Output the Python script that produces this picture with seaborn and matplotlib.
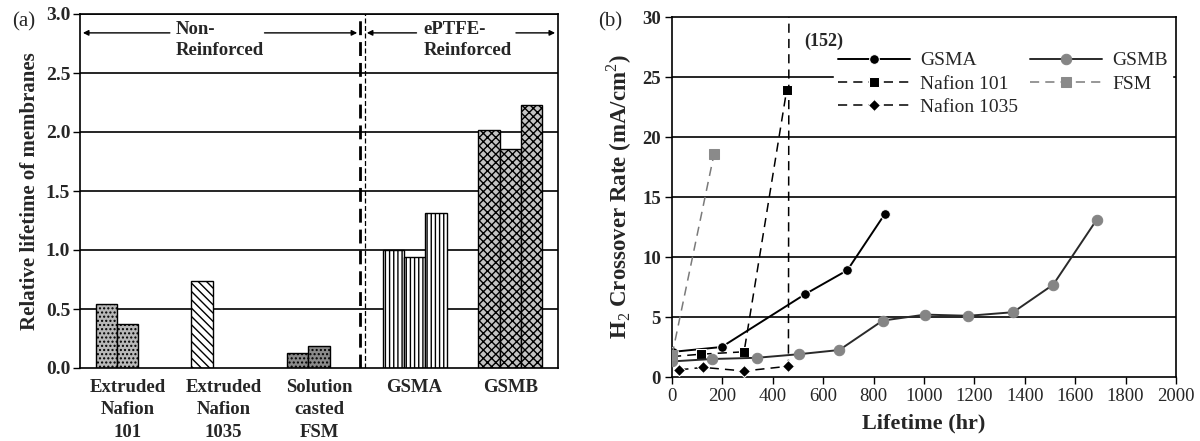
import numpy as np
import pandas as pd
import matplotlib
matplotlib.use("Agg")
import matplotlib.pyplot as plt
import seaborn as sns

# ---------------- data: panel (a) ----------------
groups = ["Extruded\nNafion\n101", "Extruded\nNafion\n1035", "Solution\ncasted\nFSM", "GSMA", "GSMB"]
runs = ["1", "2", "3"]
run1 = [0.54, 0.74, 0.13, 1.00, 2.02]
run2 = [0.37, np.nan, 0.19, 0.94, 1.86]
run3 = [np.nan, np.nan, np.nan, 1.31, 2.23]
ytick_a = [0.0, 0.5, 1.0, 1.5, 2.0, 2.5, 3.0]

# ---------------- data: panel (b) ----------------
gsma_hr = [5, 197, 528, 696, 845]
gsma_val = [2.1, 2.5, 6.9, 8.9, 13.6]
gsmb_hr = [0, 160, 336, 504, 664, 836, 1005, 1176, 1354, 1513, 1685]
gsmb_val = [1.3, 1.5, 1.6, 1.9, 2.25, 4.7, 5.2, 5.1, 5.4, 7.7, 13.1]
n101_hr = [0, 114, 286, 455]
n101_val = [1.7, 1.9, 2.1, 23.9]
fsm_hr = [0, 167]
fsm_val = [1.8, 18.6]
n1035_hr = [29, 124, 287, 462, 472]
n1035_val = [0.6, 0.8, 0.5, 0.9, 152.0]
n1035_label = "(152)"

sns.set_theme(style="white")
plt.rcParams["font.family"] = ["Liberation Serif", "DejaVu Serif"]
plt.rcParams["mathtext.fontset"] = "custom"
plt.rcParams["mathtext.rm"] = "Liberation Serif"
plt.rcParams["mathtext.bf"] = "Liberation Serif:bold"

fig = plt.figure(figsize=(12, 4.41), dpi=100)
axA = fig.add_axes([80/1200, 1-368/441, (558-80)/1200, (368-14)/441])
axB = fig.add_axes([672/1200, 1-377/441, (1176-672)/1200, (377-17)/441])

# ---------------- panel (a) ----------------
rows = []
for r, vals in zip(runs, [run1, run2, run3]):
    for g, v in zip(groups, vals):
        if not np.isnan(v):
            rows.append({"group": g, "run": r, "value": v})
dfa = pd.DataFrame(rows)

for y in ytick_a[1:]:
    axA.axhline(y, color="black", lw=1.2, zorder=0)

sns.barplot(data=dfa, x="group", y="value", hue="run", order=groups, hue_order=runs,
            width=0.67, ax=axA, legend=False, edgecolor="black", linewidth=1.0,
            palette=["white"] * 3, saturation=1, zorder=2)

styles = [("#b8b8b8", "...."), ("white", "\\\\\\\\"), ("#8a8a8a", "...."),
          ("white", "||||"), ("#c4c4c4", "xxxx")]
plt.rcParams["hatch.linewidth"] = 0.7
for p in axA.patches:
    h = p.get_height()
    if h is None or np.isnan(h):
        continue
    gi = int(round(p.get_x() + p.get_width() / 2))
    fc, hatch = styles[gi]
    p.set_facecolor(fc)
    p.set_hatch(hatch)
    p.set_edgecolor("black")

axA.set_xlim(-0.5, 4.5)
axA.set_ylim(0, 3.0)
axA.set_yticks(ytick_a)
axA.set_yticklabels([f"{v:.1f}" for v in ytick_a], fontweight="bold", fontsize=14)
axA.set_xticks(range(len(groups)))
axA.set_xticklabels(groups, fontweight="bold", fontsize=13.5, linespacing=1.4)
axA.set_xticks([0.5, 1.5, 3.5], minor=True)
axA.tick_params(axis="x", which="major", length=0, pad=8)
axA.tick_params(axis="x", which="minor", length=4, width=1, direction="out", color="black")
axA.tick_params(axis="y", length=5, width=1, direction="out", color="black", pad=2, left=True)
axA.set_xlabel("")
axA.set_ylabel("Relative lifetime of membranes", fontweight="bold", fontsize=15, labelpad=4)
for s in axA.spines.values():
    s.set_color("black")
    s.set_linewidth(1.2)

# separator
axA.axvline(2.43, color="black", lw=2.0, ls=(0, (5, 2.5)), zorder=3)
axA.axvline(2.48, color="black", lw=0.9, ls=(0, (4, 2)), zorder=3)

# region annotations
ya = 2.84
arr = dict(arrowstyle="-|>", color="black", lw=1.0, mutation_scale=8, shrinkA=0, shrinkB=0)
axA.annotate("", xy=(-0.47, ya), xytext=(0.44, ya), arrowprops=arr)
axA.annotate("", xy=(2.40, ya), xytext=(1.43, ya), arrowprops=arr)
axA.text(0.50, 2.94, "Non-\nReinforced", ha="left", va="top", fontweight="bold",
         fontsize=13.5, linespacing=1.3)
axA.annotate("", xy=(2.50, ya), xytext=(3.02, ya), arrowprops=arr)
axA.annotate("", xy=(4.47, ya), xytext=(4.06, ya), arrowprops=arr)
axA.text(3.09, 2.94, "ePTFE-\nReinforced", ha="left", va="top", fontweight="bold",
         fontsize=13.5, linespacing=1.3)
fig.text(12/1200, 1-22/441, "(a)", fontsize=15, va="center", ha="left")

# ---------------- panel (b) ----------------
for y in [5, 10, 15, 20, 25]:
    axB.axhline(y, color="black", lw=1.2, zorder=0)

sns.lineplot(x=gsma_hr, y=gsma_val, ax=axB, color="black", marker="o", ms=7,
             lw=1.4, label="GSMA", sort=False, zorder=4)
sns.lineplot(x=n101_hr, y=n101_val, ax=axB, color="black", marker="s", ms=6.5,
             lw=1.1, ls=(0, (6, 4)), label="Nafion 101", sort=False, zorder=4)
sns.lineplot(x=n1035_hr, y=n1035_val, ax=axB, color="black", marker="D", ms=6.5,
             lw=1.1, ls=(0, (6, 4)), label="Nafion 1035", sort=False, zorder=4)
sns.lineplot(x=gsmb_hr, y=gsmb_val, ax=axB, color="#2a2a2a", marker="o", ms=7.5,
             mfc="#858585", mec="#858585", lw=1.4, label="GSMB", sort=False, zorder=4)
sns.lineplot(x=fsm_hr, y=fsm_val, ax=axB, color="#7a7a7a", marker="s", ms=6.5,
             mfc="#8a8a8a", mec="#8a8a8a", lw=1.1, ls=(0, (6, 4)), label="FSM", sort=False, zorder=4)

axB.set_xlim(0, 2000)
axB.set_ylim(0, 30)
axB.set_xticks(range(0, 2001, 200))
axB.set_yticks(range(0, 31, 5))
axB.tick_params(axis="both", labelsize=13.5, length=5, width=1, direction="out",
                color="black", bottom=True, left=True, pad=3)
for lab in axB.get_yticklabels():
    lab.set_fontweight("bold")
axB.set_xlabel("Lifetime (hr)", fontweight="bold", fontsize=16, labelpad=6)
axB.set_ylabel("H$_2$ Crossover Rate (mA/cm$^2$)", fontweight="bold", fontsize=16.5, labelpad=6)
for s in axB.spines.values():
    s.set_color("black")
    s.set_linewidth(1.2)

axB.text(525, 28.0, n1035_label, fontweight="bold", fontsize=13, ha="left", va="center", zorder=6)

handles, labels = axB.get_legend_handles_labels()
order = ["GSMA", "Nafion 101", "Nafion 1035", "GSMB", "FSM"]
hmap = dict(zip(labels, handles))
leg = axB.legend([hmap[k] for k in order], order, ncol=2, loc="upper right",
                 bbox_to_anchor=(1.0, 0.925), fontsize=14, frameon=True, fancybox=False,
                 framealpha=1, edgecolor="white", handlelength=3.7, handletextpad=0.55,
                 columnspacing=0.6, labelspacing=0.3, borderpad=0.2, borderaxespad=0.2)
leg.set_zorder(5)
fig.text(598/1200, 1-22/441, "(b)", fontsize=15, va="center", ha="left")

fig.savefig("out.png", dpi=100)
